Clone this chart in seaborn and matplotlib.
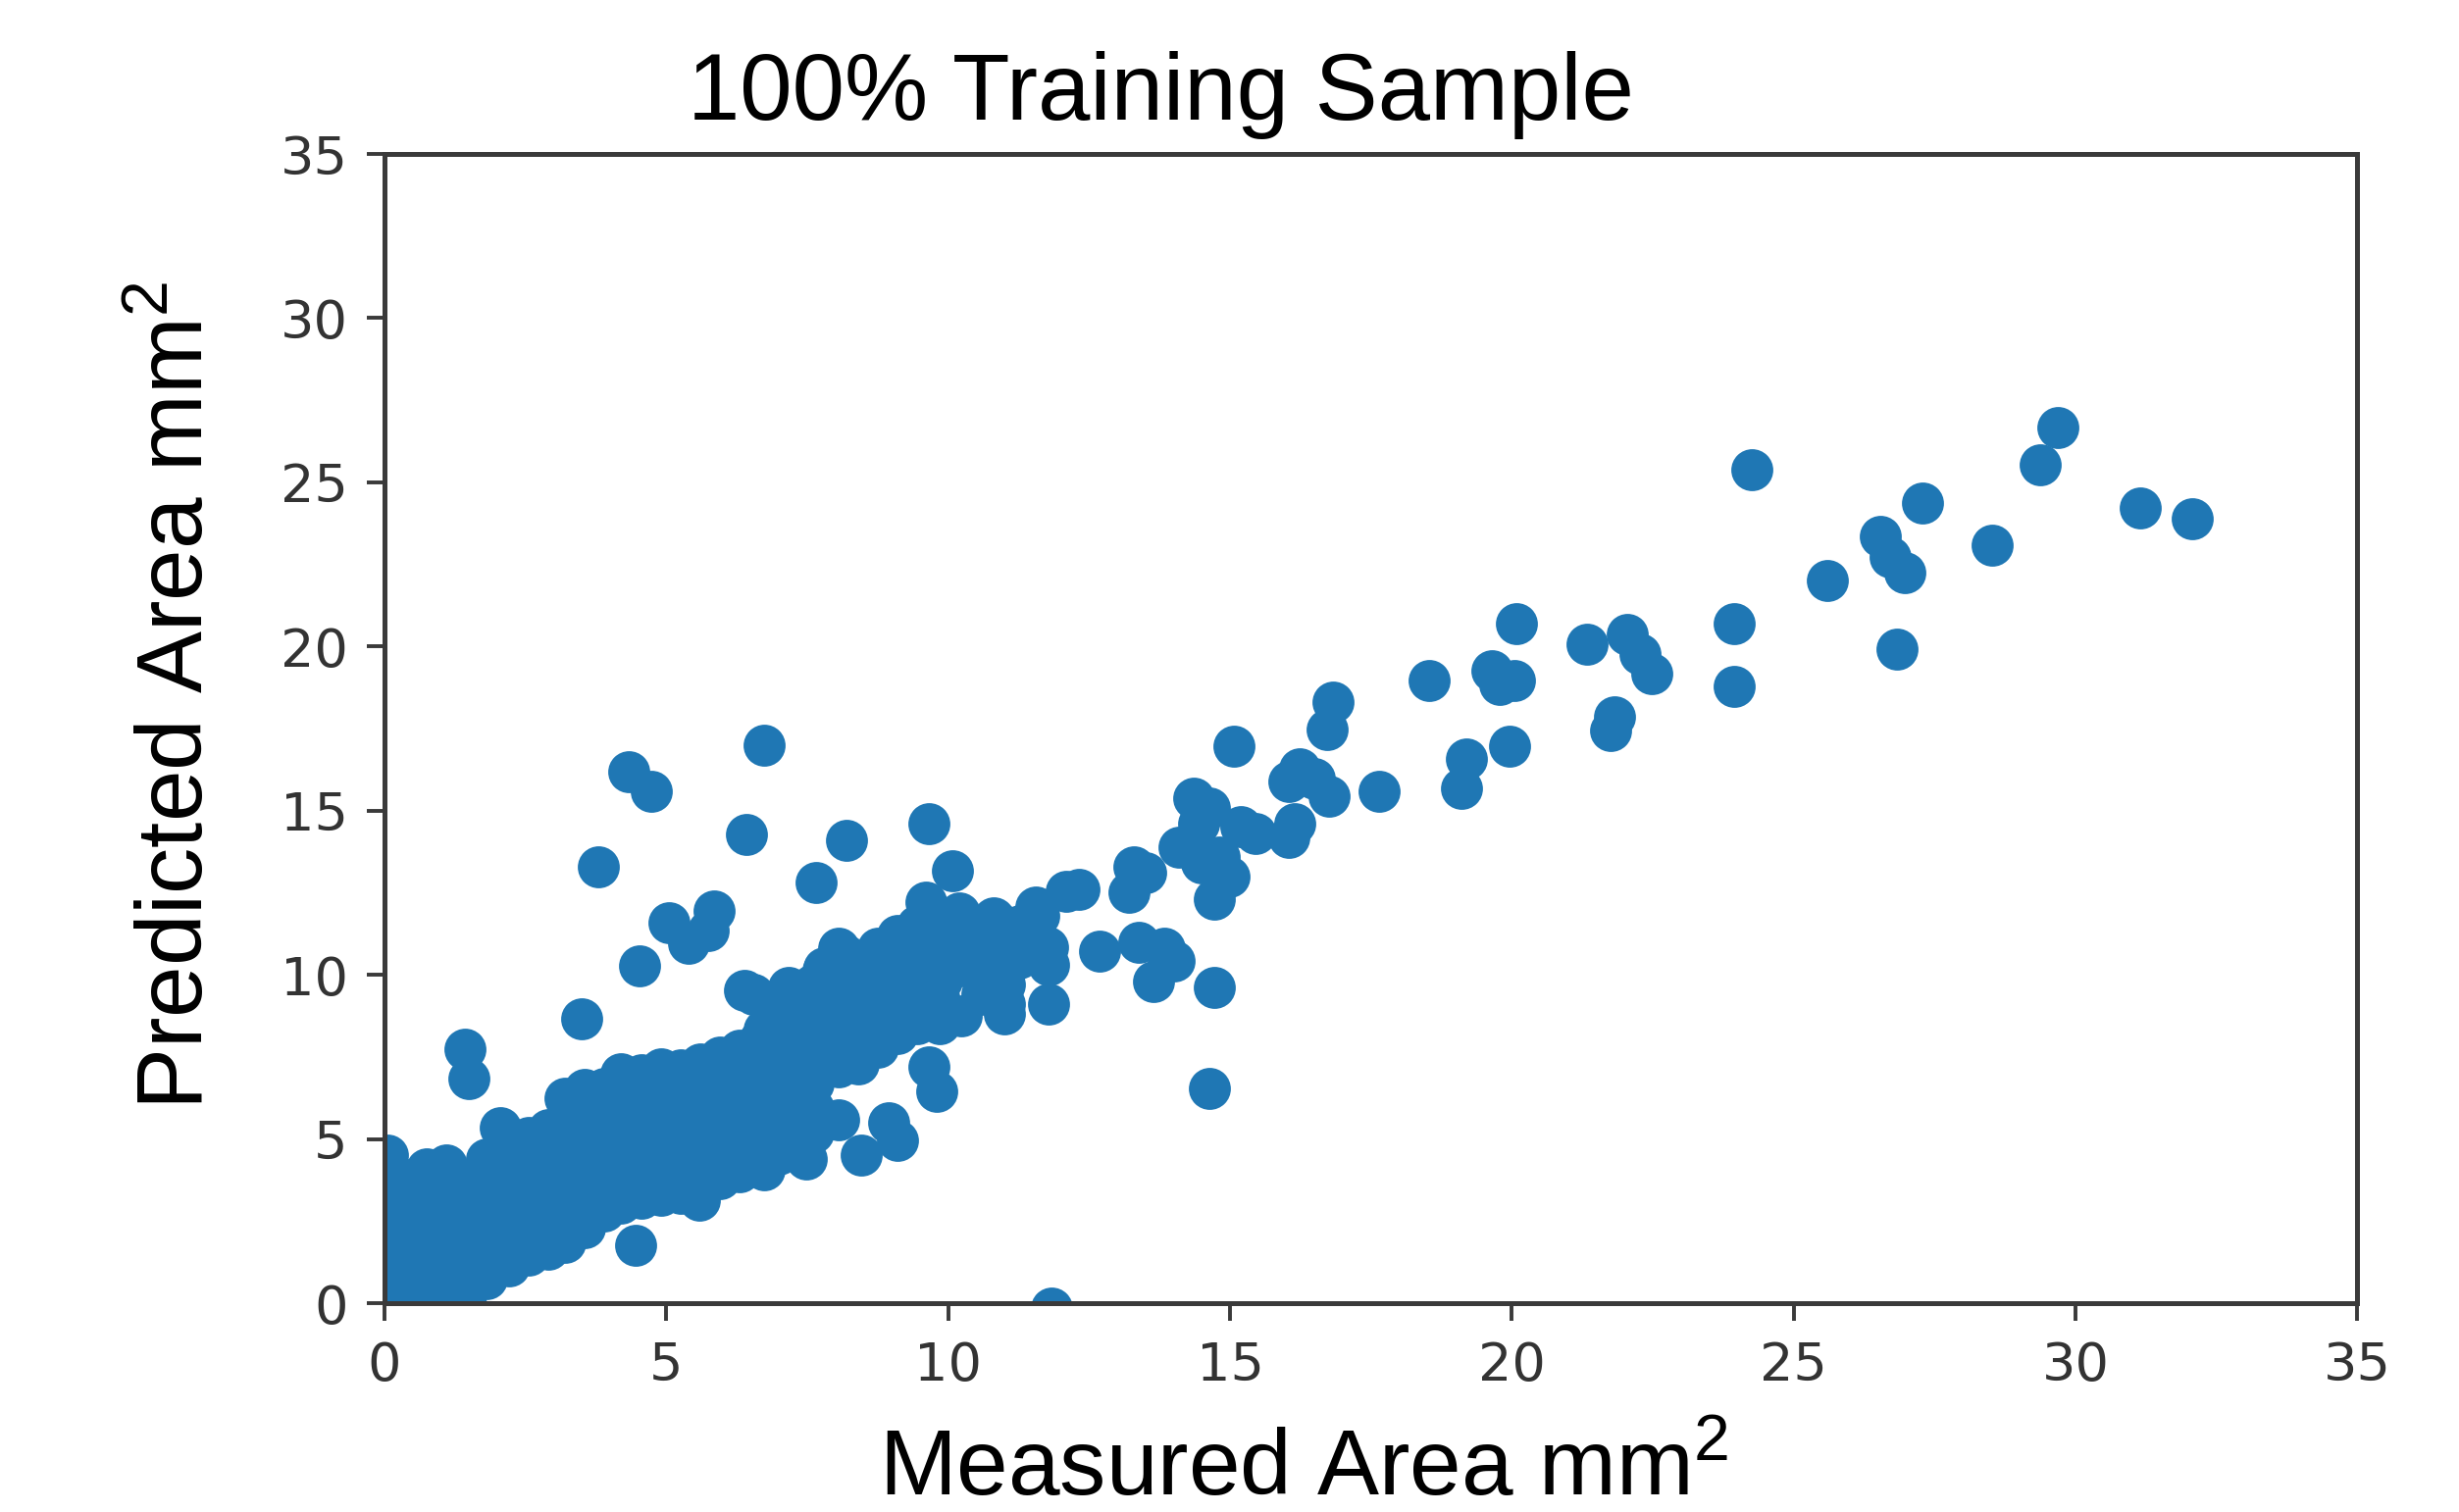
import matplotlib
matplotlib.use("Agg")
import matplotlib.pyplot as plt
import pandas as pd
import seaborn as sns

# ---- data ----
# dense band near the origin, column by column
core_x = ([0.05] * 8 + [0.4] * 6 + [0.75] * 7 + [1.1] * 7 + [1.45] * 6 + [1.8] * 6
          + [2.05] + [2.2] * 6 + [2.55] * 6 + [2.9] * 6 + [3.2] * 7 + [3.55] * 7
          + [3.9] * 6 + [4.2] * 6 + [4.55] * 6 + [4.9] * 6 + [5.25] * 6 + [5.6] * 6
          + [5.95] * 6 + [6.3] * 6 + [6.65] * 6 + [7.0] * 6 + [7.35] * 7 + [7.6] * 7
          + [8.05] * 5 + [8.4] * 5 + [8.75] * 5 + [9.1] * 5 + [9.45] * 5)
core_y = [-0.1, 0.6, 1.3, 2.0, 2.7, 3.4, 4.1, 4.5,
          0.0, 0.75, 1.5, 2.25, 3.0, 3.75,
          -0.1, 0.6, 1.35, 2.1, 2.85, 3.6, 4.1,
          0.1, 0.85, 1.6, 2.35, 3.1, 3.75, 4.2,
          -0.05, 0.7, 1.45, 2.2, 2.95, 3.65,
          0.75, 1.5, 2.25, 3.0, 3.75, 4.4,
          5.35,
          1.15, 1.9, 2.65, 3.4, 4.15, 4.8,
          1.45, 2.2, 2.95, 3.7, 4.45, 5.05,
          1.65, 2.4, 3.15, 3.9, 4.65, 5.3,
          1.85, 2.6, 3.35, 4.1, 4.85, 5.6, 6.25,
          2.3, 3.05, 3.8, 4.55, 5.3, 6.0, 6.5,
          2.8, 3.55, 4.3, 5.05, 5.8, 6.55,
          3.05, 3.8, 4.55, 5.3, 6.05, 7.0,
          3.2, 3.95, 4.7, 5.45, 6.2, 6.95,
          3.3, 4.05, 4.8, 5.55, 6.3, 7.15,
          3.35, 4.1, 4.85, 5.6, 6.35, 7.1,
          3.5, 4.25, 5.0, 5.75, 6.5, 7.3,
          3.8, 4.55, 5.3, 6.05, 6.8, 7.5,
          4.0, 4.75, 5.5, 6.25, 7.0, 7.7,
          4.3, 5.05, 5.8, 6.55, 7.3, 8.0,
          4.55, 5.3, 6.05, 6.8, 7.55, 8.3,
          4.8, 5.55, 6.3, 7.05, 7.8, 8.55, 9.2,
          5.2, 5.95, 6.7, 7.45, 8.2, 8.95, 9.7,
          7.2, 7.95, 8.7, 9.45, 10.2,
          7.3, 8.05, 8.8, 9.55, 10.4,
          7.8, 8.55, 9.3, 10.05, 10.8,
          8.2, 8.95, 9.7, 10.45, 11.2,
          8.5, 9.25, 10.0, 10.75, 11.5]

# scattered points (mid range)
mid_x = [11.6, 10.9, 10.28, 10.81, 11.26, 11.78, 11.78, 10.99, 9.83, 9.39, 8.95, 8.5,
         8.06, 7.79, 7.17, 6.54, 6.73, 11.55, 11.27, 10.8, 11.0, 11.77, 11.0, 11.0,
         10.24, 9.88, 10.07, 9.6, 9.88, 9.82, 9.32, 9.66, 8.19, 7.66, 6.42, 6.73,
         4.33, 4.73, 3.8, 5.05, 5.85, 5.39, 5.75, 4.52, 3.49, 1.42, 1.5, 6.39, 7.05,
         9.65, 8.18, 7.78, 9.65, 9.8, 8.05, 8.95, 8.45, 9.1, 4.45, 5.58, 6.74, 7.48,
         10.4, 10.6, 10.5, 10.2, 9.85]
mid_y = [11.8, 11.6, 10.81, 10.81, 10.51, 10.31, 9.12, 8.82, 9.32, 8.82, 10.02, 9.12,
         10.81, 10.21, 9.62, 9.42, 8.32, 12.08, 11.5, 11.75, 11.0, 10.84, 9.7, 9.12,
         8.74, 9.84, 13.18, 12.2, 11.5, 10.65, 9.12, 14.59, 14.09, 12.8, 14.29, 17.0,
         16.18, 15.58, 13.3, 11.6, 11.95, 10.95, 11.35, 10.27, 8.67, 7.75, 6.85, 9.52, 9.32,
         11.5, 10.61, 10.11, 7.2, 6.45, 5.6, 5.5, 4.5, 4.95, 1.76, 3.15, 4.05, 4.39,
         10.2, 9.4, 11.3, 11.9, 8.5]

# scattered points (upper range)
high_x = [29.68, 29.37, 24.26, 27.28, 31.15, 32.08, 26.53, 26.71, 26.97, 28.52, 25.6,
          23.95, 26.84, 21.34, 22.04, 22.27, 22.49, 23.95, 21.82, 21.76, 20.08, 18.53,
          19.65, 20.05, 19.78, 19.96, 19.2, 19.11, 17.65, 16.82, 16.72, 15.07, 16.23,
          16.5, 16.76, 16.05, 14.36, 14.63, 14.45, 15.2, 15.45, 16.05, 16.14, 14.1, 14.5,
          14.81, 14.99, 13.3, 13.5, 13.21, 12.32, 12.1, 14.72, 12.68, 13.38, 13.83, 14.0,
          13.65, 14.72, 14.63, 11.83]
high_y = [26.67, 25.53, 25.38, 24.38, 24.23, 23.89, 23.34, 22.74, 22.25, 23.09, 22.0,
          20.7, 19.91, 20.06, 20.36, 19.76, 19.16, 18.77, 17.87, 17.45, 20.7, 18.97,
          19.27, 18.97, 18.85, 16.97, 16.58, 15.68, 15.58, 18.3, 17.47, 16.97, 16.28,
          15.98, 15.45, 15.88, 15.38, 15.09, 14.59, 14.5, 14.3, 14.19, 14.59, 13.89, 13.4,
          13.59, 13.0, 13.3, 13.1, 12.5, 12.6, 12.55, 12.3, 10.71, 11.0, 10.81, 10.41,
          9.81, 9.62, 6.55, -0.15]

x_ticks = [0, 5, 10, 15, 20, 25, 30, 35]
y_ticks = [0, 5, 10, 15, 20, 25, 30, 35]

title_text = "100% Training Sample"
x_label = "Measured Area mm$^2$"
y_label = "Predicted Area mm$^2$"

df = pd.DataFrame({
    "measured": core_x + mid_x + high_x,
    "predicted": core_y + mid_y + high_y,
})

# ---- style ----
sns.set_theme(style="white")
plt.rcParams["font.family"] = ["DejaVu Sans"]
plt.rcParams["mathtext.default"] = "regular"

fig = plt.figure(figsize=(25.07, 15.42), dpi=100)
ax = fig.add_axes([0.1564, 0.1381, 0.8022, 0.7601])

sns.scatterplot(data=df, x="measured", y="predicted", s=950, color="#1f77b4",
                linewidth=0, legend=False, ax=ax)

ax.set_xlim(0, 35)
ax.set_ylim(0, 35)
ax.set_xticks(x_ticks)
ax.set_yticks(y_ticks)
ax.set_xticklabels([str(t) for t in x_ticks])
ax.set_yticklabels([str(t) for t in y_ticks])
ax.set_xlabel("")
ax.set_ylabel("")

for sp in ax.spines.values():
    sp.set_visible(True)
    sp.set_color("#3a3a3a")
    sp.set_linewidth(3.6)

ax.tick_params(axis="both", which="major", direction="out", length=13, width=2.8,
               color="#3a3a3a", labelsize=39, labelcolor="#333333", pad=14,
               bottom=True, left=True)

fig.text(0.472, 0.921, title_text, family="Liberation Sans", fontsize=69,
         ha="center", va="baseline", color="black")
fig.text(0.530, 0.011, x_label, family="Liberation Sans", fontsize=68,
         ha="center", va="baseline", color="black")
fig.text(0.0826, 0.540, y_label, family="Liberation Sans", fontsize=68,
         rotation=90, rotation_mode="anchor", ha="center", va="baseline",
         color="black")

fig.savefig("out.png", dpi=100)
